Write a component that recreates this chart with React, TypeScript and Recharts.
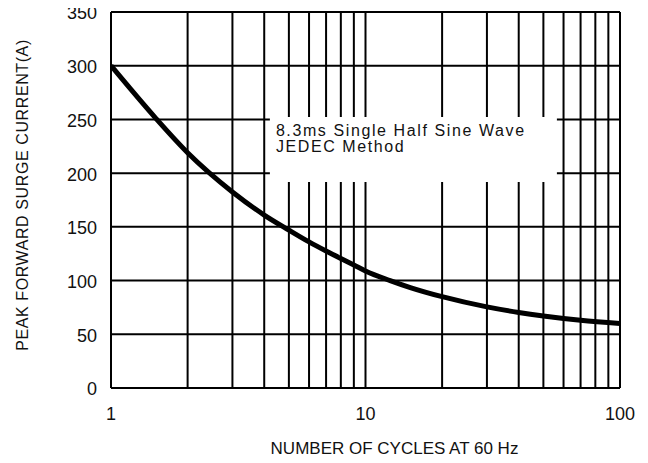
import {
  CartesianGrid,
  Line,
  LineChart,
  ReferenceArea,
  XAxis,
  YAxis,
} from 'recharts';

const cycles = [1, 1.5, 2, 3, 4, 5, 6, 7, 8, 9, 10, 12.5, 15, 20, 30, 40, 50, 70, 100];
const current = [300, 251, 219, 182.5, 161, 147, 136, 127.5, 120.5, 114.5, 109, 100, 93.5, 85, 75.5, 70.3, 67, 63, 60];

const xGrid = [1, 2, 3, 4, 5, 6, 7, 8, 9, 10, 20, 30, 40, 50, 60, 70, 80, 90, 100];
const xLabels = [1, 10, 100];
const yTicks = [0, 50, 100, 150, 200, 250, 300, 350];

const noteLines = ['8.3ms Single Half Sine Wave', 'JEDEC Method'];
// white note box, in data units
const noteBox = { x1: 4.21, x2: 56.5, y1: 191.8, y2: 252.3 };

const data = cycles.map((c, i) => ({ c, a: current[i] }));

const font = 'Arial, "Liberation Sans", sans-serif';
const ink = '#111';

export default function App() {
  return (
    <div style={{ margin: -8 }}>
      <LineChart
        width={648}
        height={463}
        data={data}
        margin={{ top: 12, right: 28, left: 0, bottom: 0 }}
        style={{ fontFamily: font }}
      >
        <CartesianGrid stroke="#000" strokeWidth={2} />
        <XAxis
          dataKey="c"
          type="number"
          scale="log"
          domain={[1, 100]}
          ticks={xGrid}
          interval={0}
          tickFormatter={(v: number) => (xLabels.includes(v) ? String(v) : '')}
          tickSize={0}
          tickMargin={19}
          height={75}
          axisLine={{ stroke: '#000', strokeWidth: 2 }}
          tick={{ fill: ink, fontSize: 18 }}
          allowDataOverflow
          label={{
            content: ({ viewBox }: any) => (
              <text
                x={viewBox.x + viewBox.width / 2 + 29}
                y={viewBox.y + 66}
                textAnchor="middle"
                fill={ink}
                fontSize={17}
              >
                NUMBER OF CYCLES AT 60 Hz
              </text>
            ),
          }}
        />
        <YAxis
          type="number"
          domain={[0, 350]}
          ticks={yTicks}
          interval={0}
          width={111}
          tickSize={0}
          tickMargin={14}
          axisLine={{ stroke: '#000', strokeWidth: 2 }}
          tick={{ fill: ink, fontSize: 18, dy: 1 }}
          label={{
            content: ({ viewBox }: any) => {
              const cy = viewBox.y + viewBox.height / 2 - 5;
              return (
                <text
                  x={22}
                  y={cy}
                  transform={`rotate(-90 22 ${cy})`}
                  textAnchor="middle"
                  dominantBaseline="central"
                  fill={ink}
                  fontSize={16}
                  letterSpacing={0.6}
                >
                  PEAK FORWARD SURGE CURRENT(A)
                </text>
              );
            },
          }}
        />
        <ReferenceArea
          {...noteBox}
          fill="#fff"
          fillOpacity={1}
          stroke="none"
          ifOverflow="visible"
          label={{
            content: ({ viewBox }: any) => (
              <g>
                {noteLines.map((t, i) => (
                  <text
                    key={t}
                    x={viewBox.x + 6}
                    y={viewBox.y + 19 + i * 16}
                    fill={ink}
                    fontSize={16}
                    letterSpacing={1.6}
                  >
                    {t}
                  </text>
                ))}
              </g>
            ),
          }}
        />
        <Line
          type="monotone"
          dataKey="a"
          stroke="#000"
          strokeWidth={5}
          dot={false}
          isAnimationActive={false}
        />
      </LineChart>
    </div>
  );
}
